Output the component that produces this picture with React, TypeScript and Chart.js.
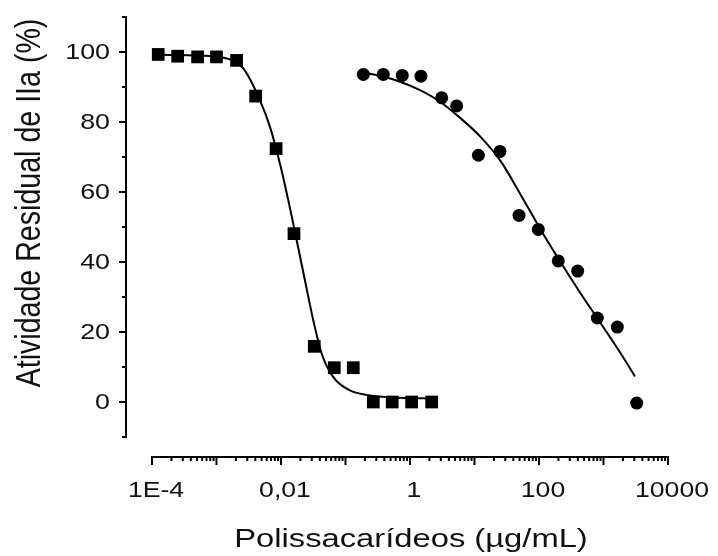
import { useEffect, useRef } from 'react';
import { Chart, registerables } from 'chart.js';

Chart.register(...registerables);

// Squares series (measured points)
const squareX = [1.25e-4, 2.5e-4, 5.1e-4, 1.0e-3, 2.05e-3, 4.05e-3, 8.4e-3, 0.0159, 0.0328, 0.067, 0.132, 0.27, 0.53, 1.06, 2.17];
const squareY = [99.3, 98.8, 98.6, 98.6, 97.6, 87.4, 72.4, 48.1, 15.9, 9.8, 9.8, 0, 0, 0, 0];

// Squares fitted curve
const squareFitX = [1.25e-4, 5.5e-4, 1.35e-3, 2.6e-3, 4.72e-3, 6.75e-3, 9.64e-3, 0.013, 0.0175, 0.0235, 0.0317, 0.0428, 0.0647, 0.1175, 0.213, 0.7, 2.17];
const squareFitY = [99.2, 99.0, 98.3, 95.3, 86.2, 78.6, 68.1, 57.6, 46.2, 34.8, 23.3, 13.8, 7.1, 3.3, 2.0, 1.2, 1.0];

// Circles series (measured points)
const circleX = [0.189, 0.385, 0.76, 1.48, 3.1, 5.29, 11.5, 24.8, 49, 97.5, 199, 398, 802, 1637, 3273];
const circleY = [93.6, 93.6, 93.3, 93.1, 86.9, 84.6, 70.5, 71.6, 53.3, 49.3, 40.3, 37.4, 24.0, 21.4, -0.3];

// Circles fitted curve
const circleFitX = [0.187, 0.343, 0.7, 1.43, 2.92, 5.96, 12.2, 24.8, 50.7, 104, 212, 432, 883, 1803, 3076];
const circleFitY = [94.2, 93.2, 91.5, 89.1, 85.8, 81.2, 75.9, 69.1, 59.6, 49.5, 40.2, 31.3, 22.8, 14.2, 7.3];

// Axes
const xTickValues = [1e-4, 1e-2, 1, 100, 10000];
const xTickLabels = ['1E-4', '0,01', '1', '100', '10000'];
const xDecades = [-4, -3, -2, -1, 0, 1, 2, 3, 4];
const yTickValues = [0, 20, 40, 60, 80, 100];
const yTickLabels = ['0', '20', '40', '60', '80', '100'];
const yMinorValues = [-10, 10, 30, 50, 70, 90, 110];
const X_AXIS_MIN = 1e-4;
const X_AXIS_MAX = 1e4;
const Y_AXIS_MIN = -10;
const Y_AXIS_MAX = 110;
const X_SCALE_MIN = 3.954e-5;
const Y_SCALE_MIN = -15.714;

const xTitle = 'Polissacarídeos (µg/mL)';
const yTitle = 'Atividade Residual de IIa (%)';

const FONT = '"Liberation Sans", Arial, sans-serif';

function toPoints(xs: number[], ys: number[]) {
  return xs.map((x, i) => ({ x, y: ys[i] }));
}

function drawStretchedText(
  ctx: CanvasRenderingContext2D,
  text: string,
  x: number,
  y: number,
  size: number,
  align: CanvasTextAlign,
  baseline: CanvasTextBaseline,
  sx: number
) {
  ctx.save();
  ctx.translate(x, y);
  ctx.scale(sx, 1);
  ctx.font = `${size}px ${FONT}`;
  ctx.textAlign = align;
  ctx.textBaseline = baseline;
  ctx.fillStyle = '#111';
  ctx.fillText(text, 0, 0);
  ctx.restore();
}

const axesPlugin = {
  id: 'excelAxes',
  afterDraw(chart: any) {
    const ctx: CanvasRenderingContext2D = chart.ctx;
    const xs = chart.scales.x;
    const ys = chart.scales.y;
    const axisX = chart.chartArea.left;
    const axisY = chart.chartArea.bottom;
    ctx.save();
    ctx.strokeStyle = '#000';
    ctx.lineWidth = 2;
    ctx.lineCap = 'butt';

    // Y axis
    const yTop = ys.getPixelForValue(Y_AXIS_MAX);
    const yBot = ys.getPixelForValue(Y_AXIS_MIN);
    ctx.beginPath();
    ctx.moveTo(axisX, yTop - 1);
    ctx.lineTo(axisX, yBot + 1);
    ctx.stroke();
    ctx.beginPath();
    yTickValues.forEach((v) => {
      const p = ys.getPixelForValue(v);
      ctx.moveTo(axisX - 7, p);
      ctx.lineTo(axisX, p);
    });
    yMinorValues.forEach((v) => {
      const p = ys.getPixelForValue(v);
      ctx.moveTo(axisX - 4, p);
      ctx.lineTo(axisX, p);
    });
    ctx.stroke();

    // X axis
    const xL = xs.getPixelForValue(X_AXIS_MIN);
    const xR = xs.getPixelForValue(X_AXIS_MAX);
    ctx.beginPath();
    ctx.moveTo(xL - 1, axisY);
    ctx.lineTo(xR + 1, axisY);
    ctx.stroke();
    ctx.beginPath();
    xDecades.forEach((d) => {
      const base = Math.pow(10, d);
      const p = xs.getPixelForValue(base);
      ctx.moveTo(p, axisY);
      ctx.lineTo(p, axisY + 8);
      if (d < 4) {
        for (let m = 2; m <= 9; m++) {
          const q = xs.getPixelForValue(m * base);
          ctx.moveTo(q, axisY);
          ctx.lineTo(q, axisY + 4);
        }
      }
    });
    ctx.stroke();
    ctx.restore();

    // Tick labels
    yTickValues.forEach((v, i) => {
      drawStretchedText(ctx, yTickLabels[i], 110, ys.getPixelForValue(v) + 1, 22, 'right', 'middle', 1.22);
    });
    xTickValues.forEach((v, i) => {
      drawStretchedText(ctx, xTickLabels[i], xs.getPixelForValue(v) + 4, 497, 22, 'center', 'alphabetic', 1.21);
    });

    // Titles
    drawStretchedText(ctx, xTitle, xs.getPixelForValue(1) + 1, 547, 26.5, 'center', 'alphabetic', 1.235);

    ctx.save();
    ctx.translate(40, (yTop + yBot) / 2 - 24);
    ctx.rotate(-Math.PI / 2);
    ctx.scale(1, 1.22);
    ctx.font = `28.6px ${FONT}`;
    ctx.textAlign = 'center';
    ctx.textBaseline = 'alphabetic';
    ctx.fillStyle = '#111';
    ctx.fillText(yTitle, 0, 0);
    ctx.restore();
  },
};

export default function App() {
  const ref = useRef<HTMLCanvasElement>(null);

  useEffect(() => {
    const canvas = ref.current;
    if (!canvas) return;
    const chart = new Chart(canvas, {
      type: 'scatter',
      data: {
        datasets: [
          {
            label: 'squares',
            data: toPoints(squareX, squareY),
            pointStyle: 'rect',
            pointRadius: 9,
            pointBackgroundColor: '#000',
            pointBorderWidth: 0,
            showLine: false,
          },
          {
            label: 'circles',
            data: toPoints(circleX, circleY),
            pointStyle: 'circle',
            pointRadius: 6.5,
            pointBackgroundColor: '#000',
            pointBorderWidth: 0,
            showLine: false,
          },
          {
            label: 'squares fit',
            data: toPoints(squareFitX, squareFitY),
            showLine: true,
            pointRadius: 0,
            borderColor: '#000',
            borderWidth: 2,
            cubicInterpolationMode: 'monotone',
            fill: false,
          },
          {
            label: 'circles fit',
            data: toPoints(circleFitX, circleFitY),
            showLine: true,
            pointRadius: 0,
            borderColor: '#000',
            borderWidth: 2,
            cubicInterpolationMode: 'monotone',
            fill: false,
          },
        ],
      } as any,
      options: {
        responsive: false,
        animation: false,
        events: [],
        layout: { padding: { left: 126, right: 50, top: 17, bottom: 99 } },
        plugins: {
          legend: { display: false },
          tooltip: { enabled: false },
        },
        scales: {
          x: { type: 'logarithmic', display: false, min: X_SCALE_MIN, max: X_AXIS_MAX },
          y: { type: 'linear', display: false, min: Y_SCALE_MIN, max: Y_AXIS_MAX },
        },
      } as any,
      plugins: [axesPlugin],
    });
    return () => chart.destroy();
  }, []);

  return (
    <div style={{ position: 'absolute', left: 0, top: 0, width: 718, height: 556, background: '#fff' }}>
      <canvas ref={ref} width={718} height={556} style={{ display: 'block' }} />
    </div>
  );
}
